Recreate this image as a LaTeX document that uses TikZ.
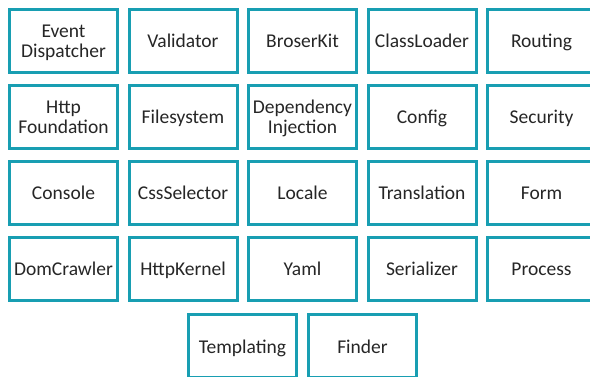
\documentclass[tikz,border=0pt]{standalone}
\usepackage{fontspec}
\setmainfont{Carlito}
\definecolor{boxteal}{RGB}{24,158,178}
\tikzset{
    compbox/.style={draw=boxteal, line width=3pt, fill=white, minimum width=108pt,
        minimum height=63pt, inner sep=0pt, align=center, text=black!85,
        text height=18pt, text depth=4pt,
        font=\fontsize{19.5}{20}\selectfont},
    twoline/.style={text height=38pt}
}
\begin{document}
\begin{tikzpicture}[x=1pt, y=-1pt]
        \useasboundingbox[clip] (0,0) rectangle (590,377);
        \fill[white] (0,0) rectangle (590,377);
        % row 1
        \node[compbox, twoline] (evdisp) at (63.5,41) {Event\\Dispatcher};
        \node[compbox] (validator) at (183,41) {Validator};
        \node[compbox] (browserkit) at (302.5,41) {BroserKit};
        \node[compbox] (classloader) at (422,41) {ClassLoader};
        \node[compbox] (routing) at (541.5,41) {Routing};
        % row 2
        \node[compbox, twoline] (httpfound) at (63.5,117) {Http\\Foundation};
        \node[compbox] (filesystem) at (183,117) {Filesystem};
        \node[compbox, twoline] (depinj) at (302.5,117) {Dependency\\Injection};
        \node[compbox] (config) at (422,117) {Config};
        \node[compbox] (security) at (541.5,117) {Security};
        % row 3
        \node[compbox] (console) at (63.5,193) {Console};
        \node[compbox] (cssselector) at (183,193) {CssSelector};
        \node[compbox] (locale) at (302.5,193) {Locale};
        \node[compbox] (translation) at (422,193) {Translation};
        \node[compbox] (form) at (541.5,193) {Form};
        % row 4
        \node[compbox] (domcrawler) at (63.5,269) {DomCrawler};
        \node[compbox] (httpkernel) at (183,269) {HttpKernel};
        \node[compbox] (yaml) at (302.5,269) {Yaml};
        \node[compbox] (serializer) at (422,269) {Serializer};
        \node[compbox] (process) at (541.5,269) {Process};
        % row 5
        \node[compbox] (templating) at (242.5,346) {Templating};
        \node[compbox] (finder) at (362.5,346) {Finder};
    \end{tikzpicture}
\end{document}
